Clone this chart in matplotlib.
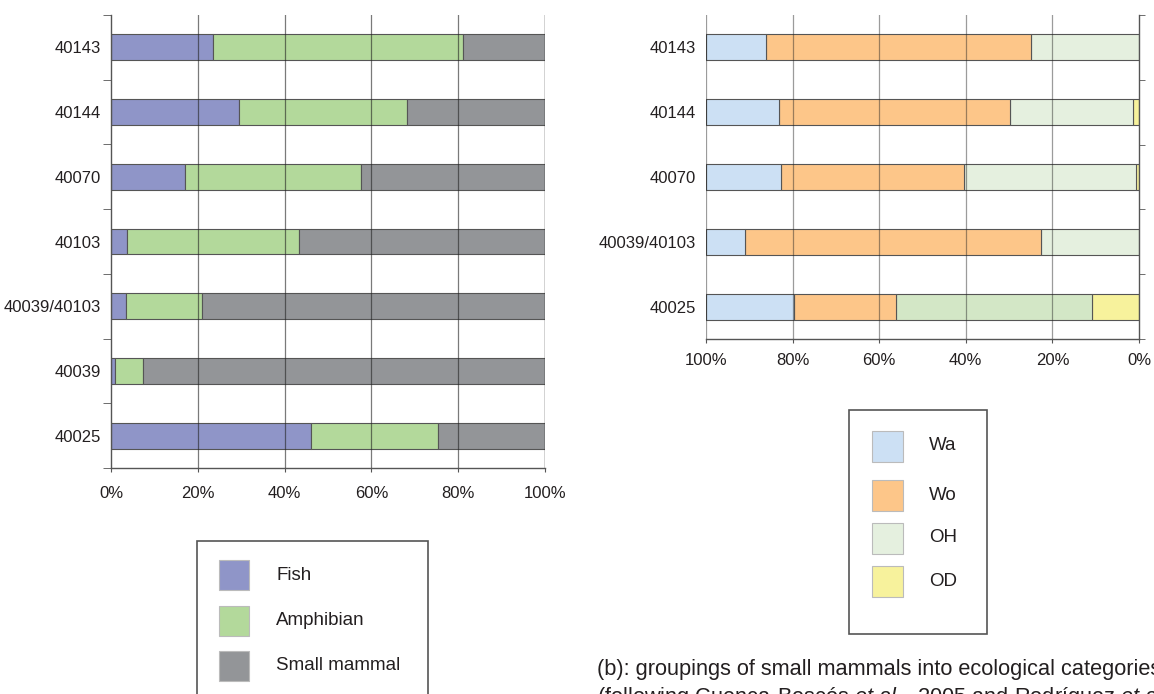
import numpy as np
import matplotlib
matplotlib.use('Agg')
import matplotlib.pyplot as plt
from matplotlib.patches import Rectangle
from matplotlib.ticker import FixedLocator, PercentFormatter

plt.rcParams['font.family'] = ['Liberation Sans', 'DejaVu Sans']
plt.rcParams['mathtext.fontset'] = 'custom'
plt.rcParams['mathtext.it'] = 'Liberation Sans:italic'
plt.rcParams['mathtext.rm'] = 'Liberation Sans'

TXT = '#231f20'
EDGE = '#555555'

# (a) fauna composition per sample
sites_a = ['40143', '40144', '40070', '40103', '40039/40103', '40039', '40025']
fish = [23.6, 29.5, 17.1, 3.7, 3.5, 1.0, 46.0]
amphibian = [57.5, 38.7, 40.5, 39.6, 17.5, 6.3, 29.3]
small_mammal = [18.9, 31.8, 42.4, 56.7, 79.0, 92.7, 24.7]
labels_a = ['Fish', 'Amphibian', 'Small mammal']
colors_a = ['#8f95c8', '#b3d99b', '#939598']

# (b) ecological groupings of small mammals
sites_b = ['40143', '40144', '40070', '40039/40103', '40025']
wa = [13.9, 16.8, 17.3, 9.1, 20.3]
wo = [61.2, 53.5, 42.2, 68.2, 23.5]
oh = [24.9, 28.4, 39.9, 22.7, 45.4]
od = [0.0, 1.3, 0.6, 0.0, 10.8]
labels_b = ['Wa', 'Wo', 'OH', 'OD']
colors_b = ['#cce0f4', '#fdc689', '#e5f0df', '#f7f29c']
oh_colors = ['#e5f0df', '#e5f0df', '#e5f0df', '#e5f0df', '#d3e7c6']

W, H = 1154, 694
fig = plt.figure(figsize=(W / 100, H / 100), dpi=100)


def style_axis(ax, n, xpad, ticks_right=False):
    ax.set_ylim(n - 0.5, -0.5)
    ax.set_yticks(np.arange(n))
    ax.yaxis.set_minor_locator(FixedLocator(np.arange(n + 1) - 0.5))
    ax.tick_params(axis='y', which='major', length=0, pad=7, labelsize=12, labelcolor=TXT)
    if ticks_right:
        ax.tick_params(axis='y', which='minor', left=False, right=True, length=4, color=EDGE)
    else:
        ax.tick_params(axis='y', which='minor', length=6, color=EDGE)
    ax.set_xticks([0, 20, 40, 60, 80, 100])
    ax.xaxis.set_major_formatter(PercentFormatter(decimals=0))
    ax.tick_params(axis='x', length=3, color=EDGE, pad=xpad, labelsize=12, labelcolor=TXT)
    ax.spines['top'].set_visible(False)
    for s in ['left', 'right', 'bottom']:
        ax.spines[s].set_color(EDGE)
        ax.spines[s].set_linewidth(1)


# ---- left panel
ax1 = fig.add_axes([111 / W, 1 - 468 / H, 434 / W, 453 / H])
y = np.arange(len(sites_a))
left = np.zeros(len(sites_a))
for vals, c in zip([fish, amphibian, small_mammal], colors_a):
    ax1.barh(y, vals, left=left, height=0.4, color=c, edgecolor=EDGE, linewidth=0.8, zorder=2)
    left += np.array(vals)
for xv in [20, 40, 60, 80]:
    ax1.axvline(xv, color='#222222', lw=0.9, alpha=0.6, zorder=3)
ax1.axvline(100, color='#222222', lw=1, zorder=3)
ax1.set_xlim(0, 100)
ax1.set_yticklabels(sites_a)
style_axis(ax1, len(sites_a), xpad=10)
ax1.spines['right'].set_visible(False)

# ---- right panel (reversed axis)
ax2 = fig.add_axes([706 / W, 1 - 339 / H, 433 / W, 324 / H])
y = np.arange(len(sites_b))
left = np.zeros(len(sites_b))
for vals, c in zip([od, oh, wo, wa], [colors_b[3], oh_colors, colors_b[1], colors_b[0]]):
    ax2.barh(y, vals, left=left, height=0.4, color=c, edgecolor=EDGE, linewidth=0.8, zorder=2)
    left += np.array(vals)
for xv in [20, 40, 60, 80, 100]:
    ax2.axvline(xv, color='#222222', lw=0.9, alpha=0.45, zorder=3)
ax2.set_xlim(100, 0)
ax2.set_yticklabels(sites_b)
style_axis(ax2, len(sites_b), xpad=7, ticks_right=True)
ax2.spines['left'].set_visible(False)


# ---- legend boxes (drawn in figure pixels)
def fig_rect(x0, y0, x1, y1, **kw):
    fig.patches.append(Rectangle((x0 / W, 1 - y1 / H), (x1 - x0) / W, (y1 - y0) / H,
                                 transform=fig.transFigure, figure=fig, **kw))


fig_rect(197, 541, 428, 720, facecolor='white', edgecolor=EDGE, linewidth=1.2)
for i, (lab, c) in enumerate(zip(labels_a, colors_a)):
    top = 560 + i * 45.5
    fig_rect(219, top, 249, top + 30, facecolor=c, edgecolor='#bbbbbb', linewidth=0.8)
    fig.text(276 / W, 1 - (top + 15) / H, lab, fontsize=13.5, color=TXT, va='center')

fig_rect(849, 410, 987, 634, facecolor='white', edgecolor=EDGE, linewidth=1.2)
for i, (lab, c) in enumerate(zip(labels_b, colors_b)):
    top = [431, 480, 523, 566][i]
    fig_rect(872, top, 903, top + 31, facecolor=c, edgecolor='#bbbbbb', linewidth=0.8)
    fig.text(929 / W, 1 - (top + 15) / H, lab, fontsize=13.5, color=TXT, va='center')

# caption runs off the right edge, as in the source figure
fig.text(597 / W, 1 - 670 / H, '(b): groupings of small mammals into ecological categories',
         fontsize=15.7, color=TXT, va='center')
fig.text(597 / W, 1 - 697 / H,
         '(following Cuenca-Bescós $\\it{et\\ al.}$, 2005 and Rodríguez $\\it{et\\ al.}$, 2011)',
         fontsize=15.7, color=TXT, va='center')

fig.savefig('out.png', dpi=100)
